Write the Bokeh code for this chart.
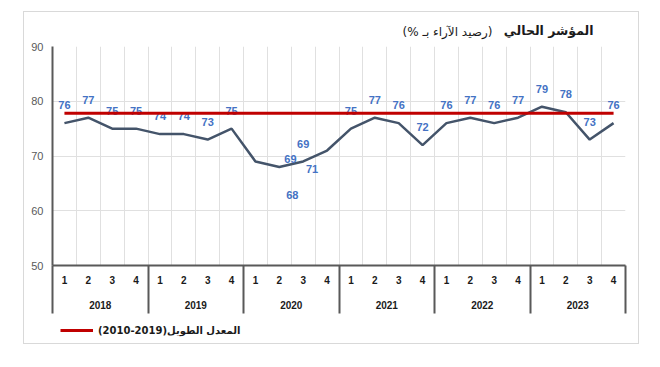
from bokeh.plotting import figure
from bokeh.layouts import column
from bokeh.models import (Range1d, FixedTicker, LinearAxis, ColumnDataSource, LabelSet,
                          Label, Legend, LegendItem, Grid)
from bokeh.embed import file_html
from bokeh.resources import INLINE
from bokeh.core.properties import value

# ---- data ----
years = ["2018", "2019", "2020", "2021", "2022", "2023"]
quarters = ["1", "2", "3", "4"]
values = [76, 77, 75, 75,
          74, 74, 73, 75,
          69, 68, 69, 71,
          75, 77, 76, 72,
          76, 77, 76, 77,
          79, 78, 73, 76]
long_term_avg = 77.8
y_ticks = [50, 60, 70, 80, 90]
title_main = "المؤشر الحالي"
title_sub = "(رصيد الآراء بـ %)"
legend_label = "(2010-2019)المعدل الطويل"

# label placement offsets (pixels), style only
label_dx = [0] * len(values)
label_dy = [18] * len(values)
label_dx[8], label_dy[8] = 35, 2
label_dx[9], label_dy[9] = 13, -28
label_dx[10], label_dy[10] = 0, 17
label_dx[11], label_dy[11] = -15, -18

RED = "#C00000"
W = 614
n = len(values)
xs = [i + 0.5 for i in range(n)]
qlabels = [quarters[i % len(quarters)] for i in range(n)]
avg_line = [long_term_avg] * n

src = ColumnDataSource(data=dict(x=xs, y=values, txt=[str(v) for v in values],
                                 dx=label_dx, dy=label_dy))


def blank(height):
    f = figure(width=W, height=height, x_range=Range1d(0, 1), y_range=Range1d(0, 1),
               output_backend="svg", toolbar_location=None,
               x_axis_location=None, y_axis_location=None,
               min_border_left=28, min_border_right=13, min_border_top=0, min_border_bottom=0)
    f.outline_line_color = None
    f.grid.visible = False
    return f


# ---- title strip ----
tf = blank(28)
tf.add_layout(Label(x=541, y=10, x_units="screen", y_units="screen", text=title_main,
                    text_align="right", text_baseline="middle", text_font="DejaVu Sans",
                    text_font_style="bold", text_font_size="12.5px", text_color="#1a1a1a"))
tf.add_layout(Label(x=350, y=9, x_units="screen", y_units="screen",
                    text="\u200f" + title_sub + "\u200f",
                    text_align="left", text_baseline="middle", text_font="DejaVu Sans",
                    text_font_size="12px", text_color="#1a1a1a"))

# ---- main chart ----
p = figure(width=W, height=277, x_range=Range1d(0, n), y_range=Range1d(y_ticks[0], y_ticks[-1]),
           output_backend="svg", toolbar_location=None,
           x_axis_location=None, y_axis_location=None,
           min_border_left=28, min_border_right=13, min_border_top=6, min_border_bottom=52)
p.outline_line_color = None
p.grid.visible = False

grid_col = "#e0e0e0"
p.add_layout(Grid(dimension=0, ticker=FixedTicker(ticks=list(range(n + 1))),
                  grid_line_color=grid_col, grid_line_width=1))
p.add_layout(Grid(dimension=1, ticker=FixedTicker(ticks=y_ticks[1:]),
                  grid_line_color=grid_col, grid_line_width=1))

yax = LinearAxis(ticker=FixedTicker(ticks=y_ticks))
yax.major_tick_out = 0
yax.major_tick_in = 0
yax.minor_tick_line_color = None
yax.axis_line_color = "#595959"
yax.axis_line_width = 2
yax.major_label_standoff = 9
yax.major_label_text_color = "#595959"
yax.major_label_text_font = "Liberation Sans"
yax.major_label_text_font_size = "11px"
p.add_layout(yax, "left")

# quarter axis; year separators drawn as its minor ticks
qax = LinearAxis(ticker=FixedTicker(ticks=xs, minor_ticks=[4 * k for k in range(len(years) + 1)]),
                 major_label_overrides={x: qlabels[i] for i, x in enumerate(xs)})
qax.major_tick_out = 0
qax.major_tick_in = 0
qax.minor_tick_out = 48
qax.minor_tick_in = 0
qax.minor_tick_line_color = "#595959"
qax.minor_tick_line_width = 2
qax.axis_line_color = "#595959"
qax.axis_line_width = 2
qax.major_label_standoff = -38
qax.major_label_text_font = "Liberation Sans"
qax.major_label_text_font_style = "bold"
qax.major_label_text_font_size = "10px"
qax.major_label_text_color = "#1a1a1a"
p.add_layout(qax, "below")

year_pos = [4 * k + 2 for k in range(len(years))]
yrax = LinearAxis(ticker=FixedTicker(ticks=year_pos),
                  major_label_overrides={pos: years[k] for k, pos in enumerate(year_pos)})
yrax.axis_line_color = None
yrax.major_tick_line_color = None
yrax.minor_tick_line_color = None
yrax.major_tick_out = 0
yrax.major_tick_in = 0
yrax.major_label_standoff = 14
yrax.major_label_text_font = "Liberation Sans"
yrax.major_label_text_font_style = "bold"
yrax.major_label_text_font_size = "10px"
yrax.major_label_text_color = "#1a1a1a"
p.add_layout(yrax, "below")

p.line("x", "y", source=src, line_color="#44546A", line_width=2.5)
p.line(xs, avg_line, line_color=RED, line_width=3, level="overlay")

labels = LabelSet(x="x", y="y", text="txt", source=src, x_offset="dx", y_offset="dy",
                  text_align="center", text_baseline="middle",
                  text_font=value("Liberation Sans"), text_font_style="bold",
                  text_font_size="11px", text_color="#4472C4")
p.add_layout(labels)

# ---- legend strip (same series, out of this strip's view; only its sample is shown) ----
lf = blank(26)
lr = lf.line(xs, avg_line, line_color=RED, line_width=3)
legend = Legend(items=[LegendItem(label=value(legend_label), renderers=[lr])],
                location=(8, 7), orientation="horizontal",
                glyph_width=33, glyph_height=12, label_height=12, label_standoff=5,
                padding=0, margin=0, border_line_color=None, background_fill_alpha=0,
                label_text_font="DejaVu Sans", label_text_font_style="bold",
                label_text_font_size="10px", label_text_color="#1a1a1a")
lf.add_layout(legend)

layout = column(tf, p, lf, spacing=0, margin=(12, 0, 0, 24),
                styles={"outline": "1px solid #d9d9d9"})

open("out.html", "w").write(file_html(layout, INLINE))
